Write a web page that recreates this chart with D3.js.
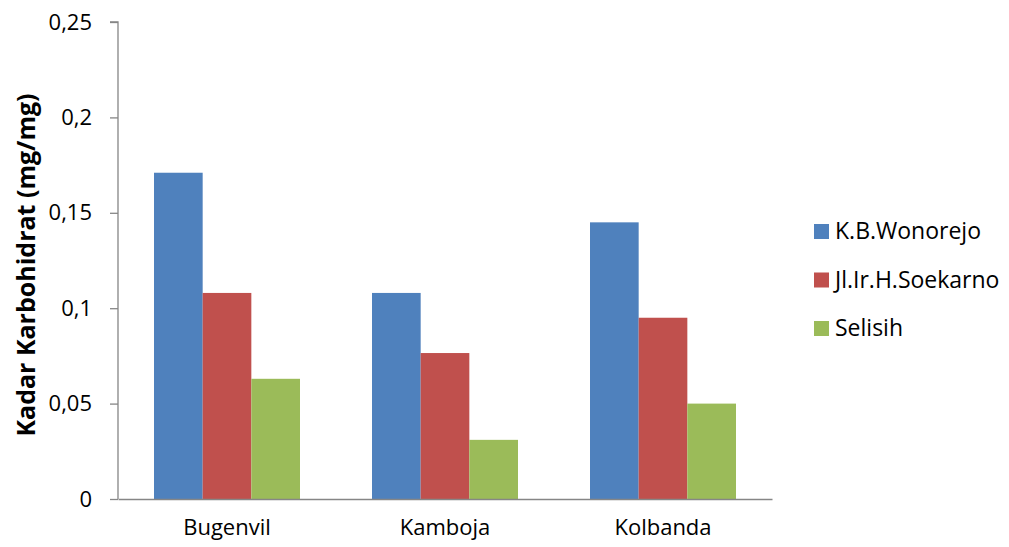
<!DOCTYPE html>
<html><head><meta charset="utf-8">
<script src="https://cdn.jsdelivr.net/npm/d3@7"></script>
<style>body{margin:0;background:#fff}svg{display:block}text{font-family:"Open Sans",sans-serif}</style>
</head><body>
<svg id="c" width="1009" height="547"></svg>
<script>
const categories = ["Bugenvil", "Kamboja", "Kolbanda"];
const seriesNames = ["K.B.Wonorejo", "Jl.Ir.H.Soekarno", "Selisih"];
const wonorejo = [0.171, 0.108, 0.145];
const soekarno = [0.108, 0.0765, 0.095];
const selisih = [0.063, 0.031, 0.050];
const yTicks = [0, 0.05, 0.1, 0.15, 0.2, 0.25];
const yTickLabels = ["0", "0,05", "0,1", "0,15", "0,2", "0,25"];
const colors = ["#4f81bd", "#c0504d", "#9bbb59"];
const series = [wonorejo, soekarno, selisih];

const svg = d3.select("#c");
const mLeft = 118, mRight = 772, mTop = 22, mBottom = 499;
const x = d3.scaleBand().domain(categories).range([mLeft, mRight]).padding(0);
const xs = d3.scaleBand().domain(d3.range(series.length)).range([36, 182]).padding(0);
const y = d3.scaleLinear().domain([0, 0.25]).range([mBottom, mTop]);

// bars
series.forEach((s, i) => {
  svg.append("g").selectAll("rect").data(s).join("rect")
    .attr("x", (d, j) => x(categories[j]) + xs(i))
    .attr("width", xs.bandwidth())
    .attr("y", d => y(d))
    .attr("height", d => y(0) - y(d))
    .attr("fill", colors[i]);
});

// y axis
const yAxis = d3.axisLeft(y).tickValues(yTicks).tickFormat((d, i) => yTickLabels[i]).tickSize(8).tickPadding(18);
const ga = svg.append("g").attr("transform", `translate(${mLeft},0)`).call(yAxis);
ga.select(".domain").attr("stroke", "#868686").attr("stroke-width", 1.3).attr("d", `M-8,${mTop}H0V${mBottom}`);
ga.selectAll(".tick line").attr("stroke", "#868686").attr("stroke-width", 1.3);
ga.selectAll(".tick text").attr("font-size", 22).attr("fill", "#000").style("font-family", '"Open Sans",sans-serif');

// x axis
const xAxis = d3.axisBottom(x).tickSize(0).tickPadding(20);
const gx = svg.append("g").attr("transform", `translate(0,${mBottom})`).call(xAxis);
gx.select(".domain").attr("stroke", "#868686").attr("stroke-width", 1.3);
gx.selectAll(".tick text").attr("font-size", 22).attr("fill", "#000").style("font-family", '"Open Sans",sans-serif');

// y title
svg.append("text").attr("transform", `translate(35,265) rotate(-90)`)
  .attr("text-anchor", "middle").attr("font-size", 25).attr("font-weight", "bold")
  .text("Kadar Karbohidrat (mg/mg)");

// legend
const lg = svg.append("g");
seriesNames.forEach((n, i) => {
  const yy = 231 + i * 48.5;
  lg.append("rect").attr("x", 814).attr("y", yy - 7).attr("width", 15).attr("height", 15).attr("fill", colors[i]);
  lg.append("text").attr("x", 835).attr("y", yy).attr("dy", "0.35em").attr("font-size", 23).text(n);
});
</script>
</body></html>
